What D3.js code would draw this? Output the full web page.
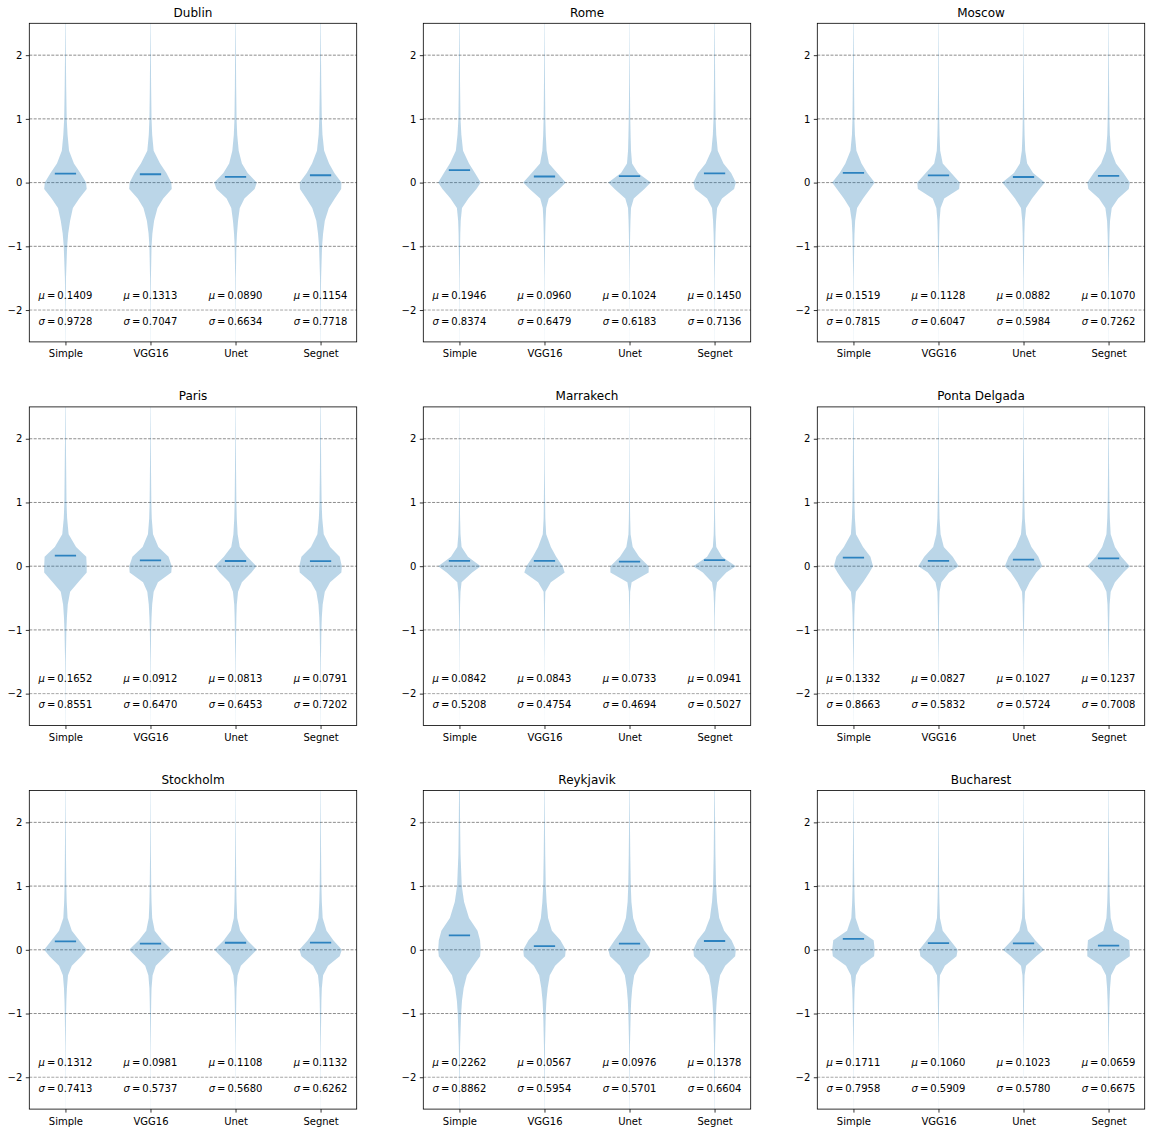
<!DOCTYPE html>
<html>
<head>
<meta charset="utf-8">
<script src="https://cdn.jsdelivr.net/npm/d3@7"></script>
<style>
body { margin: 0; background: #fff; }
text { font-family: 'DejaVu Sans', sans-serif; fill: #000; }
</style>
</head>
<body>
<div id="chart"></div>
<script>
// Data
const cities = ['Dublin', 'Rome', 'Moscow', 'Paris', 'Marrakech', 'Ponta Delgada', 'Stockholm', 'Reykjavik', 'Bucharest']
const models = ['Simple', 'VGG16', 'Unet', 'Segnet']
const yTicks = [-2, -1, 0, 1, 2]

const means = [
    [0.1409, 0.1313, 0.0890, 0.1154],
    [0.1946, 0.0960, 0.1024, 0.1450],
    [0.1519, 0.1128, 0.0882, 0.1070],
    [0.1652, 0.0912, 0.0813, 0.0791],
    [0.0842, 0.0843, 0.0733, 0.0941],
    [0.1332, 0.0827, 0.1027, 0.1237],
    [0.1312, 0.0981, 0.1108, 0.1132],
    [0.2262, 0.0567, 0.0976, 0.1378],
    [0.1711, 0.1060, 0.1023, 0.0659]
]
const sigmas = [
    [0.9728, 0.7047, 0.6634, 0.7718],
    [0.8374, 0.6479, 0.6183, 0.7136],
    [0.7815, 0.6047, 0.5984, 0.7262],
    [0.8551, 0.6470, 0.6453, 0.7202],
    [0.5208, 0.4754, 0.4694, 0.5027],
    [0.8663, 0.5832, 0.5724, 0.7008],
    [0.7413, 0.5737, 0.5680, 0.6262],
    [0.8862, 0.5954, 0.5701, 0.6604],
    [0.7958, 0.5909, 0.5780, 0.6675]
]

// Violin half widths (fraction of the widest point) read at these levels
const levels = [2.6, 2.0, 1.5, 1.0, 0.75, 0.5, 0.3, 0.15, 0, -0.1, -0.25, -0.4, -0.6, -0.8, -1.0, -1.5, -2.0, -2.6]

const dublinWidths = [
    [0.008, 0.02, 0.035, 0.06, 0.1, 0.17, 0.4, 0.7, 0.97, 1.0, 0.65, 0.35, 0.22, 0.13, 0.08, 0.025, 0.01, 0.004],
    [0.006, 0.018, 0.03, 0.05, 0.08, 0.15, 0.45, 0.75, 0.98, 1.0, 0.6, 0.33, 0.17, 0.09, 0.05, 0.02, 0.008, 0.003],
    [0.008, 0.02, 0.03, 0.05, 0.08, 0.15, 0.3, 0.57, 1.0, 0.9, 0.42, 0.2, 0.12, 0.07, 0.04, 0.015, 0.008, 0.003],
    [0.008, 0.02, 0.035, 0.06, 0.09, 0.17, 0.4, 0.65, 0.98, 0.97, 0.67, 0.39, 0.2, 0.12, 0.07, 0.025, 0.01, 0.004]
]
const romeWidths = [
    [0.008, 0.02, 0.03, 0.05, 0.09, 0.17, 0.45, 0.73, 1.0, 0.8, 0.42, 0.12, 0.06, 0.04, 0.03, 0.012, 0.006, 0.003],
    [0.006, 0.015, 0.025, 0.04, 0.06, 0.1, 0.21, 0.6, 1.0, 0.7, 0.2, 0.08, 0.05, 0.035, 0.025, 0.01, 0.005, 0.002],
    [0.005, 0.012, 0.02, 0.035, 0.05, 0.07, 0.12, 0.4, 1.0, 0.7, 0.2, 0.07, 0.045, 0.03, 0.02, 0.008, 0.004, 0.002],
    [0.008, 0.02, 0.03, 0.05, 0.08, 0.15, 0.42, 0.78, 1.0, 0.92, 0.35, 0.12, 0.07, 0.045, 0.03, 0.012, 0.006, 0.003]
]
const moscowWidths = [
    [0.008, 0.02, 0.03, 0.045, 0.07, 0.14, 0.38, 0.65, 1.0, 0.78, 0.45, 0.17, 0.08, 0.05, 0.035, 0.012, 0.006, 0.003],
    [0.006, 0.015, 0.02, 0.035, 0.05, 0.08, 0.2, 0.6, 1.0, 0.97, 0.27, 0.1, 0.05, 0.035, 0.025, 0.01, 0.005, 0.002],
    [0.005, 0.012, 0.02, 0.035, 0.05, 0.08, 0.17, 0.45, 1.0, 0.75, 0.4, 0.12, 0.06, 0.04, 0.03, 0.012, 0.006, 0.002],
    [0.006, 0.015, 0.025, 0.04, 0.06, 0.12, 0.35, 0.7, 1.0, 0.95, 0.45, 0.15, 0.07, 0.045, 0.03, 0.012, 0.006, 0.003]
]
const parisWidths = [
    [0.008, 0.02, 0.035, 0.05, 0.08, 0.15, 0.5, 0.98, 1.0, 1.0, 0.6, 0.22, 0.11, 0.07, 0.045, 0.016, 0.008, 0.003],
    [0.006, 0.015, 0.025, 0.04, 0.06, 0.12, 0.37, 0.85, 1.0, 0.98, 0.35, 0.15, 0.08, 0.05, 0.03, 0.012, 0.006, 0.002],
    [0.006, 0.015, 0.025, 0.04, 0.06, 0.1, 0.2, 0.55, 0.98, 0.75, 0.3, 0.12, 0.06, 0.04, 0.03, 0.012, 0.006, 0.002],
    [0.008, 0.02, 0.03, 0.05, 0.08, 0.15, 0.45, 0.9, 1.0, 0.98, 0.45, 0.2, 0.1, 0.06, 0.04, 0.016, 0.008, 0.003]
]
const marrakechWidths = [
    [0.004, 0.008, 0.012, 0.02, 0.03, 0.05, 0.1, 0.4, 1.0, 0.6, 0.1, 0.05, 0.03, 0.02, 0.015, 0.006, 0.003, 0.001],
    [0.004, 0.01, 0.015, 0.03, 0.04, 0.08, 0.3, 0.55, 0.85, 0.95, 0.3, 0.04, 0.025, 0.02, 0.015, 0.006, 0.003, 0.001],
    [0.004, 0.008, 0.012, 0.02, 0.03, 0.05, 0.15, 0.45, 0.9, 0.9, 0.1, 0.03, 0.02, 0.015, 0.01, 0.005, 0.002, 0.001],
    [0.003, 0.006, 0.01, 0.018, 0.025, 0.04, 0.08, 0.35, 1.0, 0.55, 0.12, 0.05, 0.025, 0.015, 0.01, 0.005, 0.002, 0.001]
]
const pontaDelgadaWidths = [
    [0.008, 0.02, 0.03, 0.045, 0.07, 0.12, 0.45, 0.8, 0.92, 0.75, 0.45, 0.12, 0.06, 0.04, 0.03, 0.012, 0.006, 0.002],
    [0.006, 0.015, 0.02, 0.035, 0.05, 0.1, 0.25, 0.67, 0.95, 0.5, 0.14, 0.05, 0.035, 0.025, 0.02, 0.008, 0.004, 0.002],
    [0.006, 0.015, 0.025, 0.04, 0.06, 0.12, 0.37, 0.7, 0.88, 0.6, 0.29, 0.07, 0.04, 0.03, 0.02, 0.008, 0.004, 0.002],
    [0.006, 0.015, 0.025, 0.04, 0.06, 0.1, 0.3, 0.6, 1.0, 0.7, 0.3, 0.1, 0.05, 0.035, 0.025, 0.01, 0.005, 0.002]
]
const stockholmWidths = [
    [0.006, 0.015, 0.025, 0.04, 0.06, 0.1, 0.3, 0.65, 1.0, 0.75, 0.3, 0.12, 0.07, 0.045, 0.03, 0.012, 0.006, 0.002],
    [0.005, 0.012, 0.02, 0.035, 0.05, 0.08, 0.2, 0.55, 1.0, 0.7, 0.25, 0.1, 0.05, 0.035, 0.025, 0.01, 0.005, 0.002],
    [0.005, 0.012, 0.02, 0.035, 0.05, 0.08, 0.22, 0.55, 1.0, 0.7, 0.25, 0.1, 0.05, 0.035, 0.025, 0.01, 0.005, 0.002],
    [0.006, 0.015, 0.025, 0.04, 0.06, 0.1, 0.28, 0.6, 1.0, 0.9, 0.35, 0.12, 0.06, 0.04, 0.03, 0.012, 0.006, 0.002]
]
const reykjavikWidths = [
    [0.015, 0.03, 0.05, 0.11, 0.22, 0.45, 0.85, 0.97, 1.0, 0.97, 0.65, 0.35, 0.2, 0.12, 0.08, 0.03, 0.012, 0.005],
    [0.008, 0.02, 0.035, 0.06, 0.1, 0.17, 0.35, 0.75, 1.0, 0.97, 0.5, 0.25, 0.15, 0.09, 0.06, 0.025, 0.012, 0.004],
    [0.008, 0.02, 0.035, 0.06, 0.09, 0.17, 0.37, 0.7, 1.0, 0.92, 0.45, 0.22, 0.13, 0.08, 0.055, 0.02, 0.01, 0.004],
    [0.01, 0.025, 0.04, 0.07, 0.12, 0.22, 0.45, 0.8, 1.0, 0.97, 0.5, 0.26, 0.16, 0.1, 0.065, 0.025, 0.012, 0.005]
]
const bucharestWidths = [
    [0.006, 0.015, 0.025, 0.04, 0.06, 0.1, 0.3, 0.95, 1.0, 0.97, 0.35, 0.12, 0.06, 0.04, 0.03, 0.012, 0.006, 0.002],
    [0.005, 0.012, 0.02, 0.03, 0.045, 0.07, 0.2, 0.55, 0.9, 0.85, 0.3, 0.07, 0.045, 0.03, 0.02, 0.008, 0.004, 0.002],
    [0.005, 0.012, 0.02, 0.03, 0.045, 0.07, 0.2, 0.55, 0.97, 0.6, 0.12, 0.05, 0.035, 0.025, 0.02, 0.008, 0.004, 0.002],
    [0.006, 0.015, 0.025, 0.04, 0.06, 0.1, 0.25, 0.97, 1.0, 1.0, 0.35, 0.12, 0.07, 0.045, 0.03, 0.012, 0.006, 0.002]
]
const cityWidths = [dublinWidths, romeWidths, moscowWidths, parisWidths, marrakechWidths,
    pontaDelgadaWidths, stockholmWidths, reykjavikWidths, bucharestWidths]

// Layout
const width = 1155
const height = 1134
const panelLefts = [29.3, 423.3, 817.3]
const panelTops = [23.3, 406.9, 790.5]
const panelW = 327.4
const panelH = 318.6
const violinColor = '#1f77b4'

const svg = d3.select('#chart').append('svg')
    .attr('width', width)
    .attr('height', height)
    .style('display', 'block')

// Scales shared by every panel
const xScale = d3.scaleLinear().domain([0.575, 4.425]).range([0, panelW])
const yScale = d3.scaleLinear().domain([-2.5, 2.5]).range([panelH, 0])
const maxHalf = xScale(1.25) - xScale(1)

svg.append('defs').append('clipPath')
    .attr('id', 'panel-clip')
    .append('rect')
    .attr('width', panelW)
    .attr('height', panelH)

const fmt = d3.format('.4f')

cities.forEach((city, c) => {
    const panel = svg.append('g')
        .attr('transform', 'translate(' + panelLefts[c % 3] + ',' + panelTops[Math.floor(c / 3)] + ')')

    // Grid lines
    panel.selectAll('.grid')
        .data(yTicks)
        .enter()
        .append('line')
        .classed('grid', true)
        .attr('x1', 0)
        .attr('x2', panelW)
        .attr('y1', d => yScale(d))
        .attr('y2', d => yScale(d))
        .style('stroke', '#808080')
        .style('stroke-width', d => d === -2 ? 0.7 : 0.9)
        .style('stroke-dasharray', '3,1.4')

    // Violins
    const body = panel.append('g').attr('clip-path', 'url(#panel-clip)')
    cityWidths[c].forEach((widths, i) => {
        const pos = xScale(i + 1)
        const pts = levels.map((y, k) => ({ y: y, w: widths[k] }))
        const area = d3.area()
            .y(d => yScale(d.y))
            .x0(d => pos - d.w * maxHalf)
            .x1(d => pos + d.w * maxHalf)
        body.append('path')
            .attr('d', area(pts))
            .style('fill', violinColor)
            .style('fill-opacity', 0.3)
            .style('stroke', 'none')
    })

    // Mean lines
    body.selectAll('.mean')
        .data(means[c])
        .enter()
        .append('line')
        .classed('mean', true)
        .attr('x1', (_, i) => xScale(i + 1) - maxHalf / 2)
        .attr('x2', (_, i) => xScale(i + 1) + maxHalf / 2)
        .attr('y1', d => yScale(d))
        .attr('y2', d => yScale(d))
        .style('stroke', '#2c82bf')
        .style('stroke-width', 1.8)

    // Mean and sigma labels
    const statRows = [{ sym: 'μ', vals: means[c], y: -1.82 }, { sym: 'σ', vals: sigmas[c], y: -2.23 }]
    statRows.forEach(row => {
        row.vals.forEach((v, i) => {
            const t = panel.append('text')
                .attr('x', xScale(i + 1))
                .attr('y', yScale(row.y))
                .attr('text-anchor', 'middle')
                .style('font-size', '10px')
            t.append('tspan').style('font-style', 'italic').text(row.sym)
            t.append('tspan').text('\u2009=\u2009' + fmt(v))
        })
    })

    // Frame
    panel.append('rect')
        .attr('width', panelW)
        .attr('height', panelH)
        .style('fill', 'none')
        .style('stroke', '#000')
        .style('stroke-width', 0.8)

    // Axes
    const yAxis = d3.axisLeft(yScale)
        .tickValues(yTicks)
        .tickFormat(d3.format('d'))
        .tickSize(3.5)
        .tickPadding(3.5)
    const xAxis = d3.axisBottom(xScale)
        .tickValues([1, 2, 3, 4])
        .tickFormat(d => models[d - 1])
        .tickSize(3.5)
        .tickPadding(5)

    const gy = panel.append('g').call(yAxis)
    const gx = panel.append('g').attr('transform', 'translate(0,' + panelH + ')').call(xAxis)
    ;[gx, gy].forEach(g => {
        g.select('.domain').remove()
        g.selectAll('.tick line').style('stroke', '#000').style('stroke-width', 0.8)
        g.selectAll('.tick text')
            .style('font-size', '10px')
            .style('font-family', "'DejaVu Sans', sans-serif")
            .style('fill', '#000')
    })

    // Title
    panel.append('text')
        .attr('x', panelW / 2)
        .attr('y', -6.6)
        .attr('text-anchor', 'middle')
        .style('font-size', '12px')
        .text(city)
})
</script>
</body>
</html>
